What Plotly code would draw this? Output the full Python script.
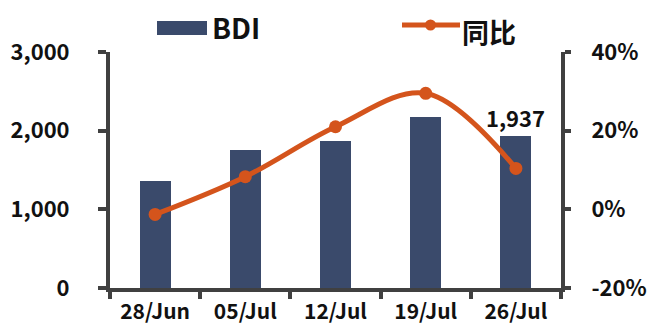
import plotly.graph_objects as go

# Weekly Baltic Dry Index and its year-on-year change
weeks = ["28/Jun", "05/Jul", "12/Jul", "19/Jul", "26/Jul"]
bdi = [1355, 1760, 1868, 2175, 1937]
yoy_pct = [-1.3, 8.3, 21.0, 29.5, 10.4]

left_ticks = [0, 1000, 2000, 3000]
right_ticks = [-20, 0, 20, 40]
right_labels = [f"{v}%" for v in right_ticks]

BAR_COLOR = "#3A4A6B"
LINE_COLOR = "#D4541C"
AXIS_COLOR = "#404040"
FONT = "Noto Sans CJK SC"

# only the latest week carries a value label
bar_text = ["" for _ in bdi]
bar_text[-1] = f"{bdi[-1]:,}"

fig = go.Figure()

fig.add_trace(go.Bar(
    x=weeks, y=bdi, name="BDI",
    marker=dict(color=BAR_COLOR, line=dict(width=0)),
    width=0.345,
    text=bar_text, textposition="outside", cliponaxis=False,
    constraintext="none",
    textfont=dict(family=FONT, size=22, color="#111111", weight="bold"),
    showlegend=False,
))

fig.add_trace(go.Scatter(
    x=weeks, y=yoy_pct, name="同比", yaxis="y2",
    mode="lines+markers",
    line=dict(color=LINE_COLOR, width=5, shape="spline", smoothing=1.0),
    marker=dict(color=LINE_COLOR, size=13),
    cliponaxis=False,
    showlegend=False,
))

axis_common = dict(
    showgrid=False, zeroline=False, automargin=False,
    showline=True, linewidth=4, linecolor=AXIS_COLOR,
    ticks="outside", tickwidth=4, tickcolor=AXIS_COLOR,
    tickfont=dict(family=FONT, size=22, color="#111111", weight="bold"),
)

fig.update_layout(
    width=648, height=332,
    margin=dict(l=110, r=87, t=52, b=44),
    paper_bgcolor="white", plot_bgcolor="white",
    bargap=0,
    xaxis=dict(
        **axis_common, ticklen=7, tickson="boundaries",
        ticklabelstandoff=2,
    ),
    yaxis=dict(
        **axis_common, range=[0, 3000], tickvals=left_ticks,
        tickformat=",", ticklen=8, ticklabelstandoff=24,
    ),
    yaxis2=dict(
        **axis_common, overlaying="y", side="right",
        range=[-20, 40], tickvals=right_ticks, ticktext=right_labels,
        ticklen=6, ticklabelstandoff=16,
    ),
)
fig.update_xaxes(tickfont_size=21)

# legend drawn as a header row above the plot
fig.add_shape(type="rect", xref="paper", yref="paper",
              x0=(157 - 110) / 451, x1=(207 - 110) / 451,
              y0=1 + (52 - 35) / 236, y1=1 + (52 - 21) / 236,
              fillcolor=BAR_COLOR, line=dict(width=0))
fig.add_annotation(text="BDI", xref="paper", yref="paper",
                   x=(210 - 110) / 451, y=1 + (52 - 27) / 236,
                   xanchor="left", yanchor="middle", showarrow=False,
                   font=dict(family=FONT, size=28, color="#111111", weight="bold"))
fig.add_shape(type="line", xref="paper", yref="paper",
              x0=(402 - 110) / 451, x1=(460 - 110) / 451,
              y0=1 + (52 - 25) / 236, y1=1 + (52 - 25) / 236,
              line=dict(color=LINE_COLOR, width=5))
fig.add_shape(type="circle", xref="paper", yref="paper",
              x0=(425 - 110) / 451, x1=(436 - 110) / 451,
              y0=1 + (52 - 30.5) / 236, y1=1 + (52 - 19.5) / 236,
              fillcolor=LINE_COLOR, line=dict(width=0))
fig.add_annotation(text="同比", xref="paper", yref="paper",
                   x=(460 - 110) / 451, y=1 + (52 - 31) / 236,
                   xanchor="left", yanchor="middle", showarrow=False,
                   font=dict(family=FONT, size=27, color="#111111", weight="bold"))

fig.write_html("out.html")
